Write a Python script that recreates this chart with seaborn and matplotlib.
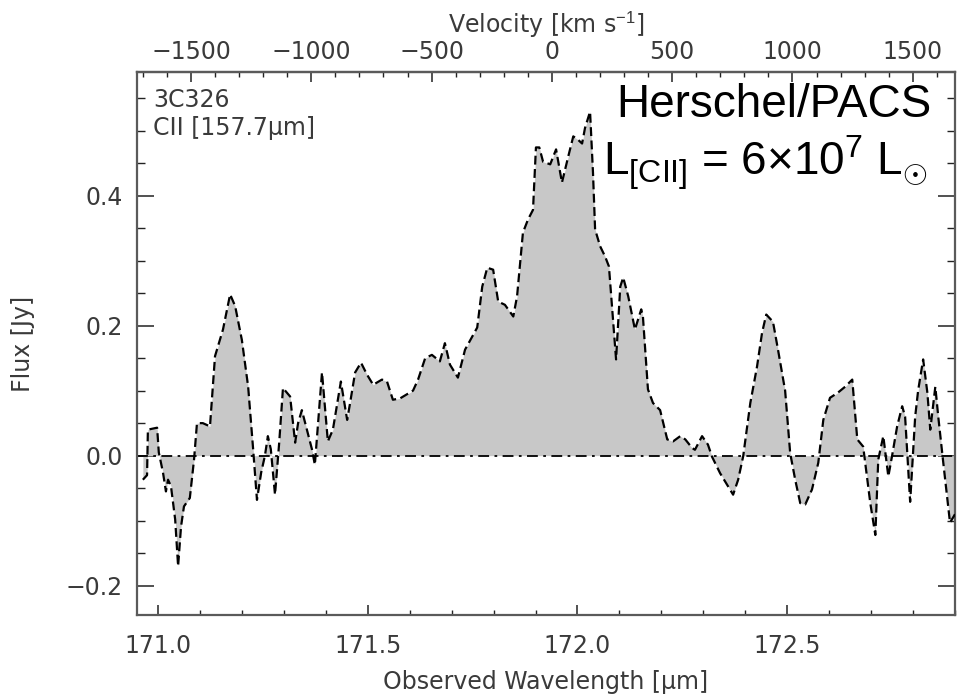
import numpy as np
import pandas as pd
import matplotlib
matplotlib.use("Agg")
import matplotlib.pyplot as plt
import seaborn as sns
from matplotlib.ticker import MultipleLocator, FixedLocator

# ---------------- data ----------------
wavelength = [170.964, 170.974, 170.976, 170.998, 171.002, 171.012, 171.019, 171.024,
              171.031, 171.041, 171.048, 171.055, 171.062, 171.076, 171.086, 171.093,
              171.107, 171.124, 171.136, 171.155, 171.172, 171.184, 171.200, 171.215,
              171.227, 171.236, 171.246, 171.255, 171.262, 171.269, 171.279, 171.289,
              171.298, 171.315, 171.327, 171.334, 171.343, 171.351, 171.367, 171.374,
              171.391, 171.405, 171.417, 171.436, 171.451, 171.458, 171.470, 171.484,
              171.498, 171.513, 171.534, 171.546, 171.560, 171.577, 171.608, 171.620,
              171.637, 171.653, 171.672, 171.684, 171.696, 171.715, 171.732, 171.749,
              171.761, 171.773, 171.785, 171.799, 171.811, 171.827, 171.847, 171.856,
              171.870, 171.882, 171.894, 171.901, 171.909, 171.918, 171.935, 171.949,
              171.963, 171.978, 171.990, 172.001, 172.011, 172.018, 172.030, 172.037,
              172.042, 172.054, 172.066, 172.075, 172.092, 172.102, 172.109, 172.121,
              172.137, 172.152, 172.156, 172.168, 172.180, 172.197, 172.214, 172.228,
              172.245, 172.257, 172.273, 172.280, 172.297, 172.311, 172.321, 172.340,
              172.357, 172.371, 172.383, 172.395, 172.412, 172.428, 172.440, 172.450,
              172.466, 172.478, 172.495, 172.507, 172.519, 172.531, 172.543, 172.559,
              172.574, 172.586, 172.602, 172.621, 172.638, 172.655, 172.667, 172.681,
              172.698, 172.710, 172.717, 172.729, 172.741, 172.750, 172.762, 172.774,
              172.781, 172.793, 172.805, 172.812, 172.824, 172.834, 172.841, 172.853,
              172.860, 172.872, 172.888, 172.900]
flux = [-0.037, -0.030, 0.040, 0.043, 0.005, -0.026, -0.055, -0.037,
        -0.047, -0.098, -0.170, -0.109, -0.078, -0.065, -0.006, 0.050,
        0.050, 0.045, 0.153, 0.194, 0.248, 0.230, 0.178, 0.106,
        0.009, -0.068, -0.026, 0.000, 0.030, 0.010, -0.060, 0.020,
        0.104, 0.091, 0.020, 0.050, 0.070, 0.050, 0.010, -0.014,
        0.128, 0.022, 0.040, 0.114, 0.055, 0.081, 0.128, 0.143,
        0.125, 0.109, 0.117, 0.114, 0.086, 0.088, 0.100, 0.117,
        0.150, 0.155, 0.145, 0.173, 0.140, 0.120, 0.163, 0.183,
        0.197, 0.260, 0.289, 0.286, 0.237, 0.232, 0.214, 0.245,
        0.343, 0.363, 0.378, 0.474, 0.474, 0.452, 0.448, 0.471,
        0.420, 0.460, 0.491, 0.486, 0.480, 0.504, 0.529, 0.435,
        0.348, 0.322, 0.306, 0.291, 0.148, 0.260, 0.274, 0.245,
        0.194, 0.225, 0.214, 0.102, 0.081, 0.070, 0.025, 0.022,
        0.030, 0.025, 0.012, 0.009, 0.030, 0.017, -0.002, -0.027,
        -0.045, -0.060, -0.037, -0.001, 0.081, 0.137, 0.189, 0.217,
        0.206, 0.163, 0.100, 0.004, -0.037, -0.073, -0.075, -0.052,
        -0.011, 0.055, 0.089, 0.097, 0.106, 0.117, 0.025, 0.014,
        -0.073, -0.122, -0.006, 0.030, -0.032, 0.000, 0.045, 0.076,
        0.060, -0.071, 0.060, 0.100, 0.148, 0.097, 0.040, 0.106,
        0.060, -0.011, -0.103, -0.090]

x_ticks = [171.0, 171.5, 172.0, 172.5]
x_ticklabels = ["171.0", "171.5", "172.0", "172.5"]
y_ticks = [-0.2, 0.0, 0.2, 0.4]
y_ticklabels = ["\u22120.2", "0.0", "0.2", "0.4"]
vel_ticks = [-1500, -1000, -500, 0, 500, 1000, 1500]
vel_ticklabels = ["\u22121500", "\u22121000", "\u2212500", "0", "500", "1000", "1500"]

LAMBDA_CENTER = 171.939   # wavelength of zero velocity [micron]
C_KMS = 299792.458

# ---------------- style ----------------
sns.set_theme(style="white")
plt.rcParams["font.family"] = ["DejaVu Sans"]
plt.rcParams["mathtext.fontset"] = "custom"
plt.rcParams["mathtext.rm"] = "Liberation Sans"
plt.rcParams["mathtext.it"] = "Liberation Sans:italic"
plt.rcParams["mathtext.bf"] = "Liberation Sans:bold"

TXT = "#3a3a3a"
FRAME = "#5a5a5a"

df = pd.DataFrame({"wavelength": wavelength, "flux": flux})

fig = plt.figure(figsize=(9.64, 6.99), dpi=100)
ax = fig.add_axes([0.1421, 0.1202, 0.8486, 0.7768])

ax.fill_between(df["wavelength"], df["flux"], 0, color="#c8c8c8", lw=0, zorder=1)
sns.lineplot(data=df, x="wavelength", y="flux", ax=ax, color="black", lw=1.6,
             estimator=None, sort=False, zorder=3)
ax.lines[-1].set_linestyle((0, (4, 2)))
ax.axhline(0, color="black", lw=1.3, linestyle=(0, (6, 3, 1.5, 3)), zorder=2)

ax.set_xlim(170.95, 172.90)
ax.set_ylim(-0.245, 0.59)

ax.xaxis.set_major_locator(FixedLocator(x_ticks))
ax.set_xticklabels(x_ticklabels)
ax.xaxis.set_minor_locator(MultipleLocator(0.1))
ax.yaxis.set_major_locator(FixedLocator(y_ticks))
ax.set_yticklabels(y_ticklabels)
ax.yaxis.set_minor_locator(MultipleLocator(0.05))

ax.tick_params(axis="x", which="major", direction="in", length=7, width=1.1,
               color="#222222", labelsize=17, labelcolor=TXT, pad=14,
               top=False, bottom=True)
ax.tick_params(axis="x", which="minor", direction="in", length=3.5, width=1.0,
               color="#222222", top=False, bottom=True)
ax.tick_params(axis="y", which="major", direction="in", length=12, width=1.1,
               color="#222222", labelsize=17, labelcolor=TXT, pad=10,
               left=True, right=True)
ax.tick_params(axis="y", which="minor", direction="in", length=6, width=1.0,
               color="#222222", left=True, right=True)

for sp in ax.spines.values():
    sp.set_color(FRAME)
    sp.set_linewidth(1.6)

ax.set_xlabel("Observed Wavelength [\u00b5m]", fontsize=17, color=TXT, labelpad=8)
ax.set_ylabel("Flux [Jy]", fontsize=17, color=TXT, labelpad=22)

# top velocity axis
def lam2vel(lam):
    return (np.asarray(lam) / LAMBDA_CENTER - 1.0) * C_KMS

def vel2lam(v):
    return LAMBDA_CENTER * (1.0 + np.asarray(v) / C_KMS)

secax = ax.secondary_xaxis("top", functions=(lam2vel, vel2lam))
secax.xaxis.set_major_locator(FixedLocator(vel_ticks))
secax.set_xticklabels(vel_ticklabels)
secax.xaxis.set_minor_locator(MultipleLocator(100))
secax.tick_params(axis="x", which="major", direction="in", length=7, width=1.1,
                  color="#222222", labelsize=17, labelcolor=TXT, pad=6)
secax.tick_params(axis="x", which="minor", direction="in", length=3.5, width=1.0,
                  color="#222222")
secax.spines["top"].set_color(FRAME)
secax.spines["top"].set_linewidth(1.6)
secax.set_xlabel("Velocity [km s$^{-1}$]", fontsize=17, color=TXT, labelpad=5)

# annotations
fig.text(153 / 964, 1 - 100 / 699, "3C326", fontsize=17, color=TXT,
         ha="left", va="center")
fig.text(153 / 964, 1 - 128 / 699, "CII [157.7\u00b5m]", fontsize=17, color=TXT,
         ha="left", va="center")
fig.text(932 / 964, 1 - 117 / 699, "Herschel/PACS", fontsize=33, color="black",
         family="Liberation Sans", ha="right", va="baseline")
fig.text(603 / 964, 1 - 175 / 699,
         "L$_{\\mathregular{[CII]}}$ = 6\u00d710$^{\\mathregular{7}}$ L$_{\\odot}$",
         fontsize=33, color="black", family="Liberation Sans",
         ha="left", va="baseline")

fig.savefig("out.png", dpi=100)
